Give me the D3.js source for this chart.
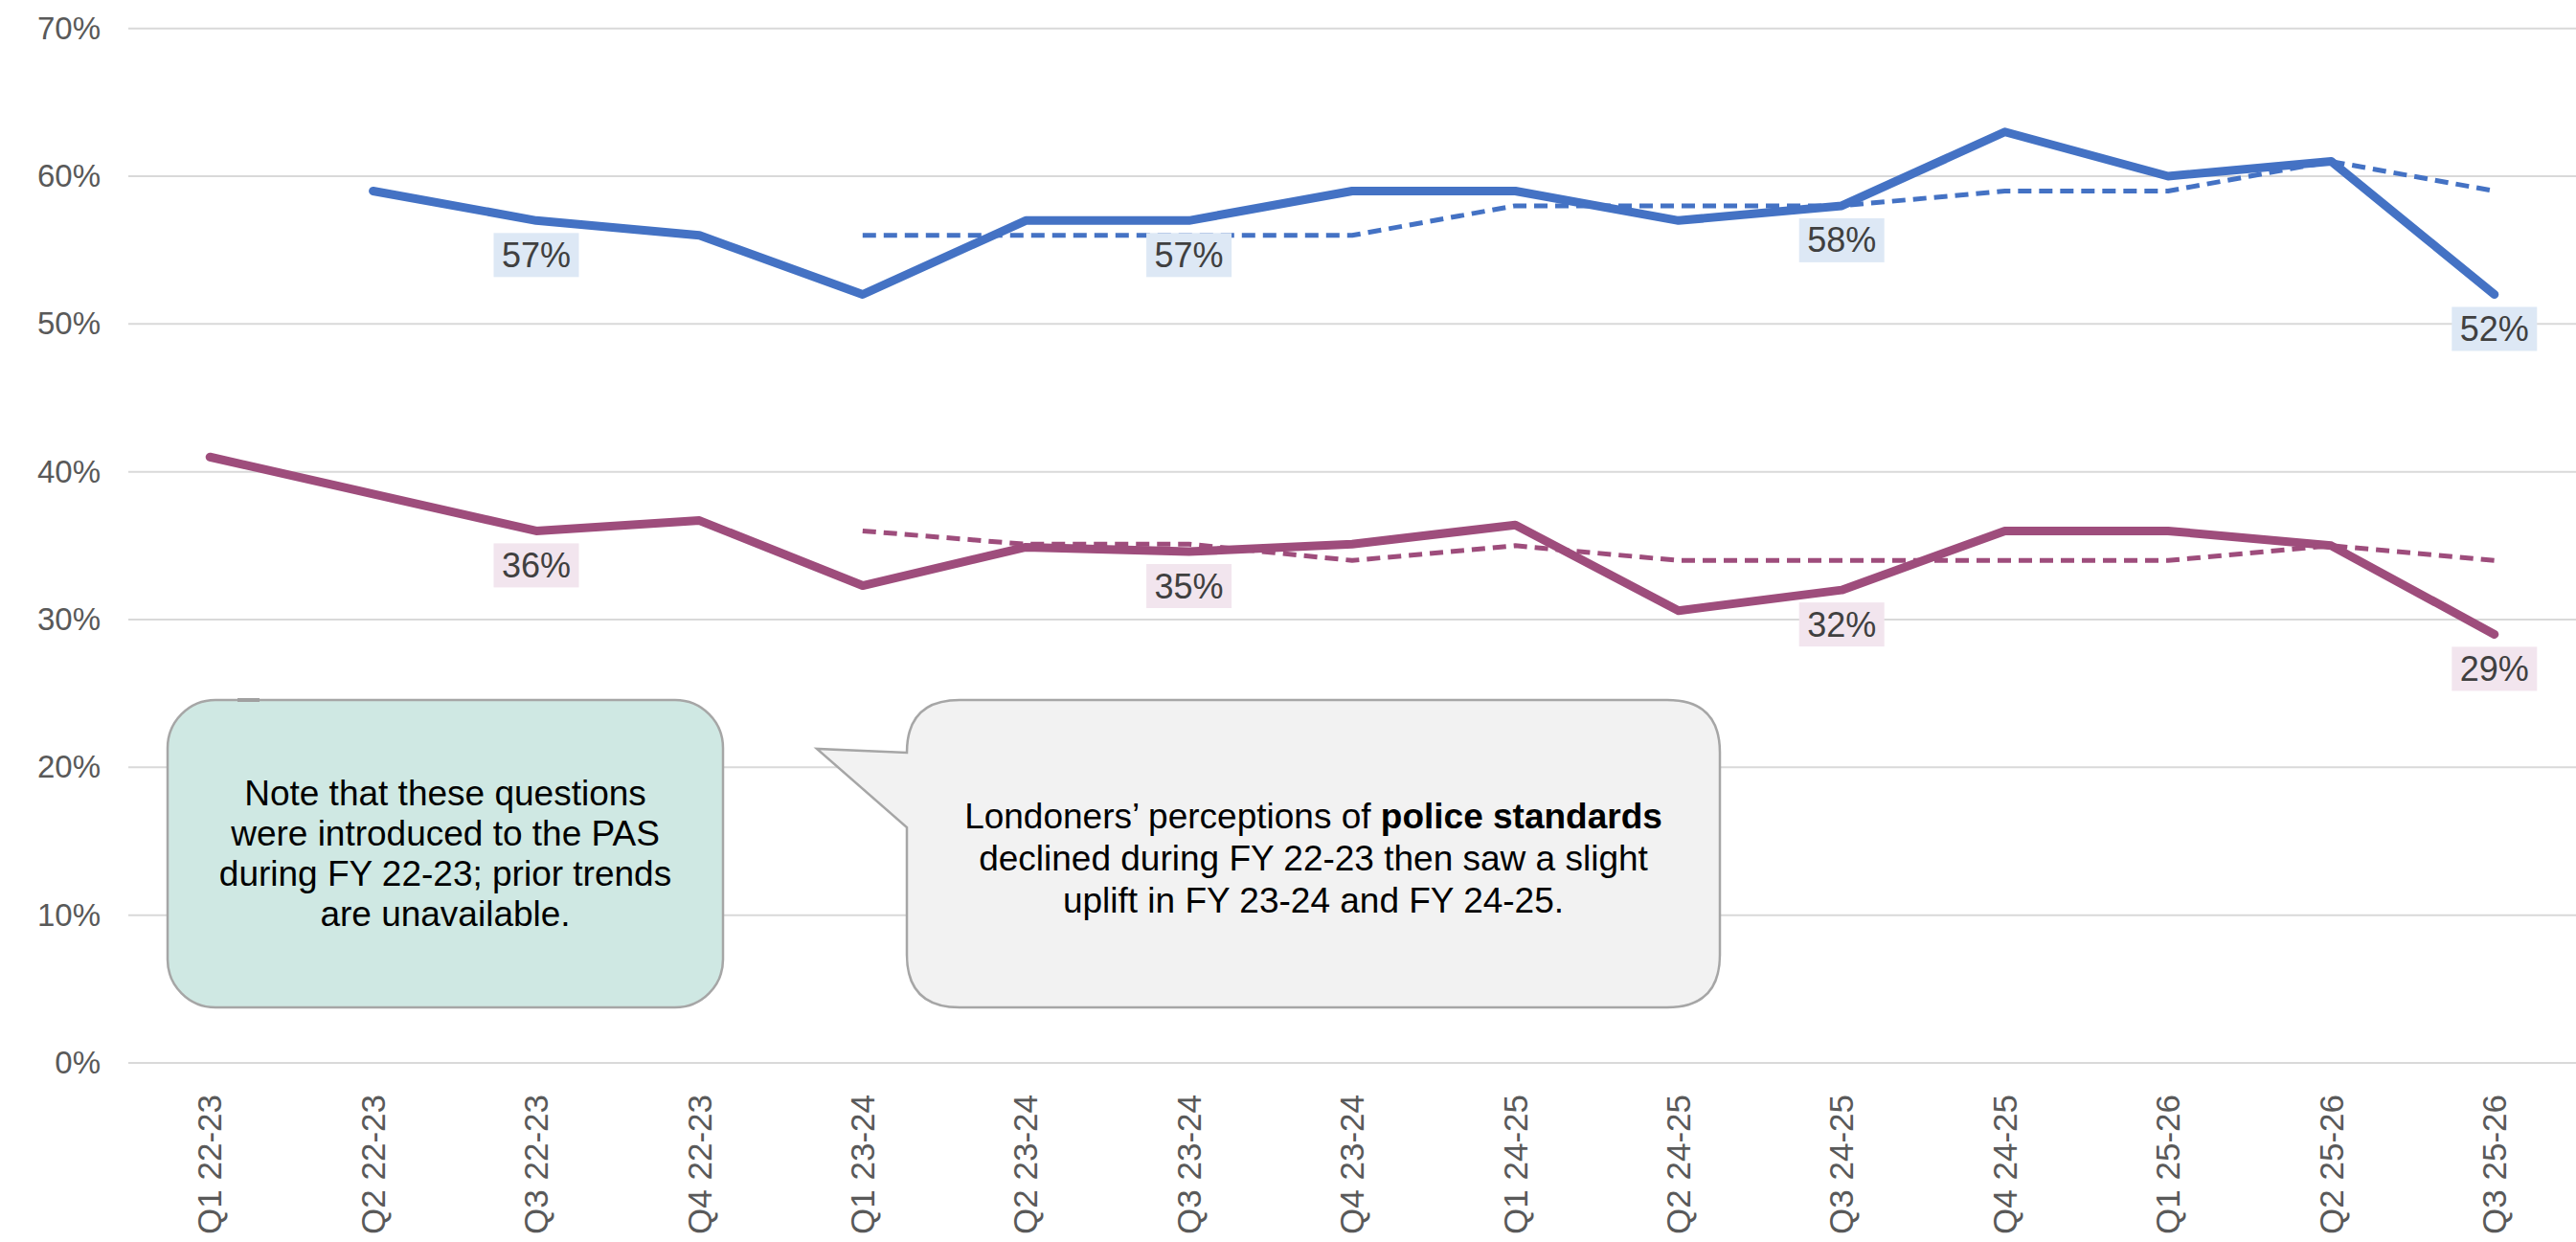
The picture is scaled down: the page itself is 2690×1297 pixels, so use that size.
<!DOCTYPE html>
<html>
<head>
<meta charset="utf-8">
<script src="https://cdn.jsdelivr.net/npm/d3@7"></script>
<style>
  html, body { margin: 0; padding: 0; background: #ffffff; }
  svg { display: block; font-family: "Liberation Sans", Arial, sans-serif; }
</style>
</head>
<body>
<svg id="chart" width="2690" height="1297"></svg>
<script>
// ---- data ----
const categories = ["Q1 22-23","Q2 22-23","Q3 22-23","Q4 22-23",
                    "Q1 23-24","Q2 23-24","Q3 23-24","Q4 23-24",
                    "Q1 24-25","Q2 24-25","Q3 24-25","Q4 24-25",
                    "Q1 25-26","Q2 25-26","Q3 25-26"];
const blueSolid    = [null, 59, 57, 56, 52, 57, 57, 59, 59, 57, 58, 63, 60, 61, 52];
const blueDashed   = [null, null, null, null, 56, 56, 56, 56, 58, 58, 58, 59, 59, 61, 59];
const purpleSolid  = [41, 38.5, 36, 36.7, 32.3, 34.9, 34.6, 35.1, 36.4, 30.6, 32, 36, 36, 35, 29];
const purpleDashed = [null, null, null, null, 36, 35.1, 35.1, 34, 35, 34, 34, 34, 34, 35, 34];
const labelIndices = [2, 6, 10, 14];
const yTicks = [0, 10, 20, 30, 40, 50, 60, 70];
const noteText = ["Note that these questions", "were introduced to the PAS",
                  "during FY 22-23; prior trends", "are unavailable."];
const calloutLines = [
  [{t: "Londoners\u2019 perceptions of ", b: false}, {t: "police standards", b: true}],
  [{t: "declined during FY 22-23 then saw a slight", b: false}],
  [{t: "uplift in FY 23-24 and FY 24-25.", b: false}]
];

// ---- layout ----
const svg = d3.select("#chart");
const plotLeft = 134, plotRight = 2690, plotTop = 29.7, plotBottom = 1110;
const x = d3.scaleBand().domain(categories).range([plotLeft, plotRight]).padding(0);
const y = d3.scaleLinear().domain([0, 70]).range([plotBottom, plotTop]);
const cx = c => x(c) + x.bandwidth() / 2;

const BLUE = "#4472c4", PURPLE = "#9e4d7c";

svg.append("rect").attr("width", 2690).attr("height", 1297).attr("fill", "#fff");

// gridlines
svg.append("g").selectAll("line").data(yTicks).join("line")
  .attr("x1", plotLeft).attr("x2", plotRight)
  .attr("y1", d => y(d)).attr("y2", d => y(d))
  .attr("stroke", "#d9d9d9").attr("stroke-width", 2);

// y axis
const yAxis = svg.append("g").attr("transform", `translate(${plotLeft},0)`)
  .call(d3.axisLeft(y).tickValues(yTicks).tickSize(0).tickPadding(29).tickFormat(d => d + "%"));
yAxis.select(".domain").remove();
yAxis.selectAll("text").attr("font-size", 33).attr("fill", "#595959")
  .attr("font-family", "Liberation Sans, Arial, sans-serif");

// x axis
const xAxis = svg.append("g").attr("transform", `translate(0,${plotBottom})`)
  .call(d3.axisBottom(x).tickSize(0).tickPadding(0));
xAxis.select(".domain").remove();
xAxis.selectAll("text")
  .attr("font-size", 35).attr("fill", "#595959")
  .attr("font-family", "Liberation Sans, Arial, sans-serif")
  .attr("transform", "rotate(-90)")
  .attr("text-anchor", "end")
  .attr("x", -33).attr("y", 0).attr("dy", "0.35em");

// lines
const lineGen = d3.line()
  .defined(d => d.v !== null)
  .x(d => cx(d.c)).y(d => y(d.v));
const toPts = arr => categories.map((c, i) => ({c, v: arr[i]}));

function drawLine(arr, color, width, dash) {
  const p = svg.append("path").datum(toPts(arr))
    .attr("d", lineGen).attr("fill", "none")
    .attr("stroke", color).attr("stroke-width", width)
    .attr("stroke-linejoin", "round").attr("stroke-linecap", dash ? "butt" : "round");
  if (dash) p.attr("stroke-dasharray", dash);
}
drawLine(blueSolid, BLUE, 9, null);
drawLine(purpleSolid, PURPLE, 9, null);
drawLine(blueDashed, BLUE, 5, "14,8");
drawLine(purpleDashed, PURPLE, 5, "14,8");

// data labels
function drawLabels(arr, fill) {
  const g = svg.append("g");
  labelIndices.forEach(i => {
    const c = categories[i], v = arr[i];
    const top = y(v) + 13;
    g.append("rect").attr("x", cx(c) - 44.5).attr("y", top)
      .attr("width", 89).attr("height", 46).attr("fill", fill);
    g.append("text").attr("x", cx(c)).attr("y", top + 23).attr("dy", "0.35em")
      .attr("text-anchor", "middle").attr("font-size", 36).attr("fill", "#404040")
      .text(Math.round(v) + "%");
  });
}
drawLabels(blueSolid, "#dde8f5");
drawLabels(purpleSolid, "#f2e5ee");

// note box (green)
const note = svg.append("g");
note.append("rect").attr("x", 175).attr("y", 731).attr("width", 580).attr("height", 321)
  .attr("rx", 50).attr("ry", 50).attr("fill", "#cfe8e3").attr("stroke", "#a6a6a6").attr("stroke-width", 2.5);
note.append("rect").attr("x", 248).attr("y", 729).attr("width", 23).attr("height", 4).attr("fill", "#a0a0a0");
const noteCx = 465, noteLH = 42, noteMid = 891;
noteText.forEach((t, i) => {
  note.append("text").attr("x", noteCx)
    .attr("y", noteMid + (i - (noteText.length - 1) / 2) * noteLH).attr("dy", "0.35em")
    .attr("text-anchor", "middle").attr("font-size", 37).attr("fill", "#000").text(t);
});

// speech callout (grey)
const bx = 947, by = 731, bw = 849, bh = 321, r = 55;
const tipX = 853, tipY = 782, w1 = 786, w2 = 864;
const path = d3.path();
path.moveTo(bx + r, by);
path.lineTo(bx + bw - r, by);
path.quadraticCurveTo(bx + bw, by, bx + bw, by + r);
path.lineTo(bx + bw, by + bh - r);
path.quadraticCurveTo(bx + bw, by + bh, bx + bw - r, by + bh);
path.lineTo(bx + r, by + bh);
path.quadraticCurveTo(bx, by + bh, bx, by + bh - r);
path.lineTo(bx, w2);
path.lineTo(tipX, tipY);
path.lineTo(bx, w1);
path.lineTo(bx, by + r);
path.quadraticCurveTo(bx, by, bx + r, by);
path.closePath();
svg.append("path").attr("d", path.toString())
  .attr("fill", "#f2f2f2").attr("stroke", "#a6a6a6").attr("stroke-width", 2.5);
const cLH = 44, cMid = 896, cCx = bx + bw / 2;
calloutLines.forEach((parts, i) => {
  const t = svg.append("text").attr("x", cCx)
    .attr("y", cMid + (i - (calloutLines.length - 1) / 2) * cLH).attr("dy", "0.35em")
    .attr("text-anchor", "middle").attr("font-size", 37).attr("fill", "#000");
  parts.forEach(p => t.append("tspan").attr("font-weight", p.b ? "bold" : "normal").text(p.t));
});
</script>
</body>
</html>
